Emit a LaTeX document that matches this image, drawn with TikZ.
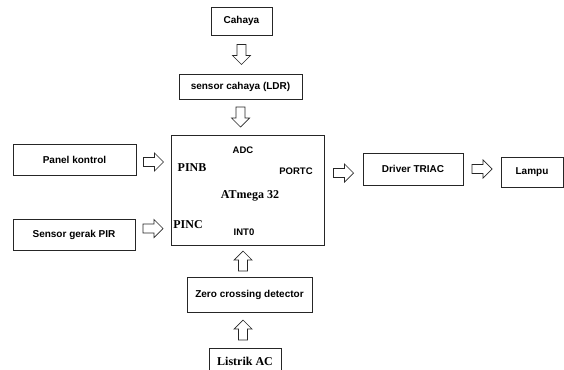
\documentclass[tikz,border=0pt]{standalone}
\usepackage{fontspec}
\setmainfont{Liberation Serif}
\setsansfont{Liberation Sans}
\usetikzlibrary{positioning,calc}

\tikzset{
  box/.style={draw=black!85, line width=.8pt, inner sep=0pt,
    font=\sffamily\bfseries\fontsize{10}{12}\selectfont},
  lbl/.style={inner sep=0pt, font=\sffamily\bfseries\fontsize{9.5}{11}\selectfont},
  pin/.style={inner sep=0pt, font=\bfseries\fontsize{12}{14}\selectfont},
  blockarrow/.pic={
    \draw[draw=black!85, line width=.7pt, fill=white, line join=miter]
      (-10,-4.5) -- (1,-4.5) -- (1,-9) -- (10,0) -- (1,9) -- (1,4.5) -- (-10,4.5) -- cycle;
  },
  flow/.style={pos=.5, sloped, allow upside down}
}

\begin{document}
\begin{tikzpicture}[x=1pt, y=-1pt]
    \useasboundingbox (0,0) rectangle (564,369);

    \node[box, minimum width=61pt, minimum height=28pt] (cahaya) at (241.5,21) {Cahaya};
    \node[box, minimum width=123pt, minimum height=25pt] (ldr) at (240.5,86.5) {sensor cahaya (LDR)};
    \node[box, minimum width=123pt, minimum height=31pt] (panel) at (74.5,159.5) {Panel kontrol};
    \node[box, minimum width=122pt, minimum height=31pt] (pir) at (74,234.5) {Sensor gerak PIR};
    \node[box, minimum width=153pt, minimum height=110pt] (atmega) at (247.5,190) {};
    \node[box, minimum width=100pt, minimum height=32pt] (driver) at (413,169) {Driver TRIAC};
    \node[box, minimum width=62pt, minimum height=30pt] (lampu) at (532,172) {Lampu};
    \node[box, minimum width=125pt, minimum height=35pt] (zero) at (249.5,294.5) {Zero crossing detector};
    \node[box, pin, minimum width=72pt, minimum height=26pt] (listrik) at (245,361) {Listrik AC};

    \node[lbl] (adc) at (243,150) {ADC};
    \node[pin] (pinb) at (192,168) {PINB};
    \node[lbl] (portc) at (296,171) {PORTC};
    \node[pin] (chip) at (250,196) {ATmega 32};
    \node[pin] (pinc) at (188,225) {PINC};
    \node[lbl] (int0) at (244,232) {INT0};

    \path (cahaya.south) -- (cahaya.south |- ldr.north) pic[flow] {blockarrow};
    \path (ldr.south) -- (ldr.south |- atmega.north) pic[flow] {blockarrow};
    \path ([yshift=-2.5pt]panel.east) -- ([yshift=-2.5pt]panel.east -| atmega.west) pic[flow] {blockarrow};
    \path ([yshift=6pt]pir.east) -- ([yshift=6pt]pir.east -| atmega.west) pic[flow] {blockarrow};
    \path ([yshift=-4pt]driver.west -| atmega.east) -- ([yshift=-4pt]driver.west) pic[flow] {blockarrow};
    \path (driver.east) -- (driver.east -| lampu.west) pic[flow] {blockarrow};
    \path ([xshift=-6.5pt]zero.north) -- ([xshift=-6.5pt]zero.north |- atmega.south) pic[flow] {blockarrow};
    \path ([xshift=-2pt]listrik.north) -- ([xshift=-2pt]listrik.north |- zero.south) pic[flow] {blockarrow};
\end{tikzpicture}
\end{document}
